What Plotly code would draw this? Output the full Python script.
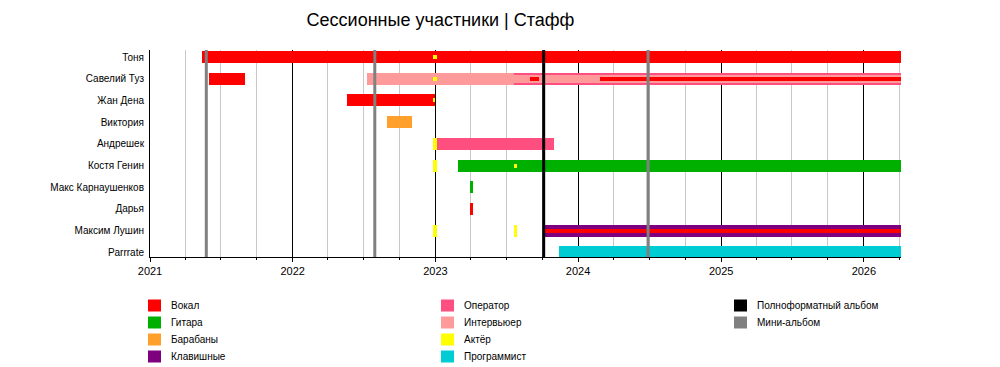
import pandas as pd
import plotly.graph_objects as go

# ---------------- data ----------------
members = ["Тоня", "Савелий Туз", "Жан Дена", "Виктория", "Андрешек",
           "Костя Генин", "Макс Карнаушенков", "Дарья", "Максим Лушин", "Parrrate"]

role_names = ["Вокал", "Гитара", "Барабаны", "Клавишные",
              "Оператор", "Интервьюер", "Актёр", "Программист"]
role_colors = ["#FF0000", "#00B000", "#FFA02C", "#7F007F",
               "#FF4F80", "#FF9A9A", "#FFFF00", "#00CCD3"]

END = "2026-04-06"
START = "2021-01-01"

# tier: 1 = main bar, 2 = medium stripe, 3 = thin stripe
bar_member = ["Тоня", "Савелий Туз", "Савелий Туз", "Савелий Туз", "Жан Дена",
              "Виктория", "Андрешек", "Андрешек", "Костя Генин", "Костя Генин",
              "Макс Карнаушенков", "Дарья", "Максим Лушин", "Максим Лушин",
              "Максим Лушин", "Parrrate",
              "Савелий Туз",
              "Тоня", "Савелий Туз", "Жан Дена", "Костя Генин",
              "Савелий Туз", "Савелий Туз", "Максим Лушин"]
bar_role = ["Вокал", "Вокал", "Интервьюер", "Оператор", "Вокал",
            "Барабаны", "Оператор", "Актёр", "Актёр", "Гитара",
            "Гитара", "Вокал", "Актёр", "Актёр",
            "Клавишные", "Программист",
            "Интервьюер",
            "Актёр", "Актёр", "Актёр", "Актёр",
            "Вокал", "Вокал", "Вокал"]
bar_start = ["2021-05-13", "2021-05-31", "2022-07-11", "2023-07-20", "2022-05-21",
             "2022-08-29", "2023-01-05", "2022-12-25", "2022-12-25", "2023-02-27",
             "2023-03-30", "2023-03-30", "2022-12-25", "2023-07-20",
             "2023-10-09", "2023-11-12",
             "2023-07-20",
             "2022-12-25", "2022-12-25", "2022-12-25", "2023-07-20",
             "2023-08-30", "2024-02-27", "2023-10-09"]
bar_end = [END, "2021-09-02", "2023-07-20", END, "2023-01-01",
           "2022-11-01", "2023-10-31", "2023-01-05", "2023-01-06", END,
           "2023-04-06", "2023-04-06", "2023-01-06", "2023-07-30",
           END, END,
           END,
           "2023-01-06", "2023-01-06", "2023-01-01", "2023-07-30",
           "2023-09-24", END, END]
bar_tier = [1] * 16 + [2] + [3] * 7

album_dates = ["2021-05-25", "2022-07-30", "2023-10-05", "2024-06-28"]
album_kinds = ["Мини-альбом", "Мини-альбом", "Полноформатный альбом", "Мини-альбом"]
album_names = ["Полноформатный альбом", "Мини-альбом"]
album_colors = ["#000000", "#808080"]

title_text = "Сессионные участники | Стафф"

# ---------------- style / layout ----------------
W, H = 1000, 367
ML, MR, MT, MB = 150, 99, 50, 110
PW = W - ML - MR
PH = H - MT - MB
FONT = "Liberation Sans, Arial, Helvetica, sans-serif"
row_px = 21.7
tier_px = {1: 12, 2: 8, 3: 4}

role_color = dict(zip(role_names, role_colors))
album_color = dict(zip(album_names, album_colors))

fig = go.Figure()
for m, r, s, e, t in zip(bar_member, bar_role, bar_start, bar_end, bar_tier):
    dur = (pd.Timestamp(e) - pd.Timestamp(s)).total_seconds() * 1000
    fig.add_trace(go.Bar(
        y=[m], x=[dur], base=[s], orientation="h",
        width=tier_px[t] / row_px,
        marker=dict(color=role_color[r], line=dict(width=0)),
        name=r, showlegend=False, hoverinfo="skip"))

for d, k in zip(album_dates, album_kinds):
    fig.add_shape(type="line", xref="x", yref="paper", x0=d, x1=d, y0=0, y1=1,
                  line=dict(color=album_color[k], width=3), layer="above")

# legend drawn manually in pixel space (3 columns of 4)
def px_x(px):
    return (px - ML) / PW

def px_y(py):
    return (H - MB - py) / PH

legend_items = list(zip(role_names, role_colors)) + list(zip(album_names, album_colors))
for i, (name, col) in enumerate(legend_items):
    c, rr = divmod(i, 4)
    sx = 148 + 293 * c
    cy = 305.5 + 17 * rr
    fig.add_shape(type="rect", xref="paper", yref="paper",
                  x0=px_x(sx), x1=px_x(sx + 13), y0=px_y(cy + 6), y1=px_y(cy - 6),
                  fillcolor=col, line=dict(width=0), layer="above")
    fig.add_annotation(xref="paper", yref="paper", x=px_x(sx + 21), y=px_y(cy),
                       text=name, showarrow=False, xanchor="left", yanchor="middle",
                       font=dict(family=FONT, size=10, color="black"))

n = len(members)
top_i = -(7 / row_px)
bot_i = (n - 1) + (PH - 7 - (n - 1) * row_px) / row_px

fig.update_layout(
    width=W, height=H,
    margin=dict(l=ML, r=MR, t=MT, b=MB, pad=0),
    paper_bgcolor="white", plot_bgcolor="white",
    barmode="overlay", bargap=0,
    showlegend=False,
    font=dict(family=FONT, size=10, color="black"),
    title=dict(text=title_text, x=440.5 / W, xanchor="center", xref="container",
               y=1 - 20 / H, yanchor="middle", yref="container",
               font=dict(family=FONT, size=18, color="black")),
)

fig.update_xaxes(
    type="date", range=[START, END],
    tick0="2021-01-01", dtick="M12", tickformat="%Y",
    showgrid=True, gridcolor="#000000", gridwidth=1,
    ticks="outside", ticklen=4, tickcolor="black", tickwidth=1,
    showline=True, linecolor="black", linewidth=1,
    tickfont=dict(family=FONT, size=11, color="black"),
    minor=dict(dtick="M3", tick0="2021-01-01", showgrid=True, gridcolor="#C8C8C8",
               gridwidth=1, ticks="outside", ticklen=2, tickcolor="black"),
    zeroline=False, fixedrange=True,
)
fig.update_yaxes(
    type="category", categoryorder="array", categoryarray=members,
    range=[bot_i, top_i],
    showgrid=False, showline=True, linecolor="black", linewidth=1,
    ticks="", ticklabelstandoff=3,
    tickfont=dict(family=FONT, size=10, color="black"),
    zeroline=False, fixedrange=True,
)

fig.write_html("out.html", config={"displayModeBar": False},
               post_script="document.body.style.margin='0px';document.body.style.overflow='hidden';")
